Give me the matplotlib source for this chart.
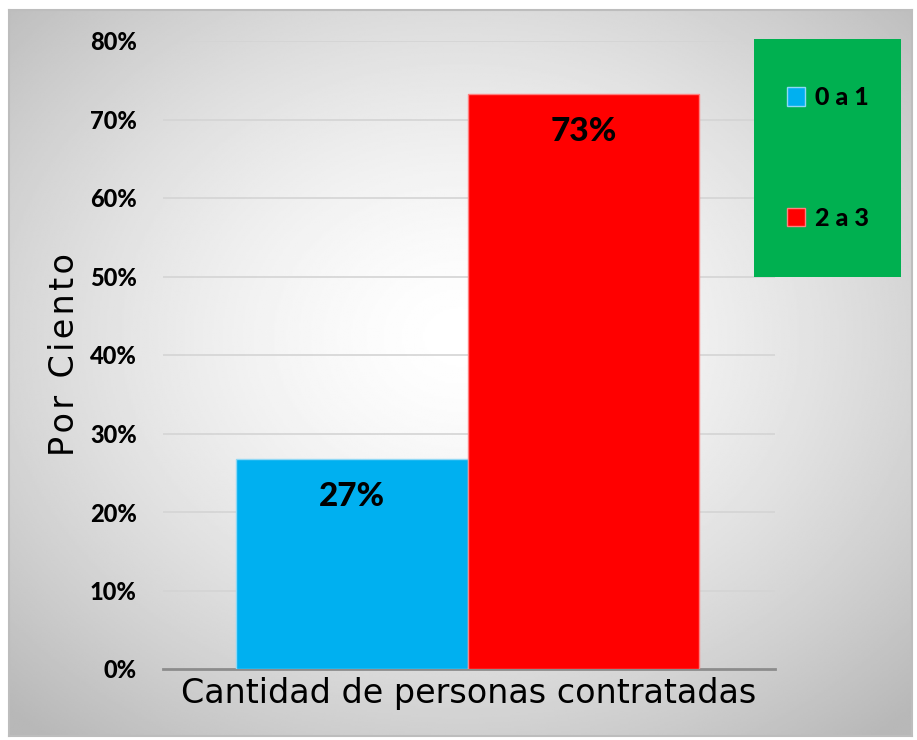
import numpy as np
import matplotlib.pyplot as plt
from matplotlib.patches import Rectangle

# Data
categories = ['0 a 1', '2 a 3']
values = [0.267, 0.733]
bar_labels = ['27%', '73%']
colors = ['#00b0f0', '#ff0000']
edge_colors = ['#8fd8f5', '#ff8080']
yticks = np.arange(0, 0.81, 0.1)

W, H = 917, 740
fig = plt.figure(figsize=(W / 100, H / 100), dpi=100)
fig.patch.set_facecolor('white')

# Background frame with radial gradient
bg = fig.add_axes([9 / W, 1 - 736 / H, 903 / W, 726 / H], zorder=-5)
yy, xx = np.mgrid[0:1:400j, 0:1:500j]
r = np.sqrt(((xx - 0.5) / 0.72) ** 2 + ((yy - 0.55) / 0.72) ** 2)
shade = 1 - 0.28 * np.clip(r, 0, 1) ** 1.5
bg.imshow(shade, cmap='gray', vmin=0, vmax=1, aspect='auto',
          extent=[0, 1, 0, 1], origin='lower')
bg.set_xticks([])
bg.set_yticks([])
for s in bg.spines.values():
    s.set_color('#bdbdbd')
    s.set_linewidth(1.5)

bold = {'family': 'Lato', 'weight': 'black'}

# Main chart
ax = fig.add_axes([163 / W, 1 - 669 / H, 612 / W, 628 / H])
ax.set_facecolor('none')
x = np.arange(len(values))
bars = ax.bar(x, values, width=1.0, color=colors, edgecolor=edge_colors,
              linewidth=1, label=categories, zorder=3)
ax.set_xlim(-0.5 - 73 / 232, 1.5 + 76 / 232)
ax.set_ylim(0, 0.8)
ax.set_yticks(yticks)
ax.set_yticklabels([f'{int(round(t * 100))}%' for t in yticks],
                   fontsize=17, **bold)
ax.tick_params(axis='y', length=0, pad=19)
ax.set_xticks([])
ax.grid(axis='y', color='#d4d4d4', linewidth=1.2, zorder=0)
for s in ['top', 'right', 'left']:
    ax.spines[s].set_visible(False)
ax.spines['bottom'].set_color('#8c8c8c')
ax.spines['bottom'].set_linewidth(2)
ax.spines['bottom'].set_zorder(2)

for b, lab in zip(bars, bar_labels):
    ax.annotate(lab, (b.get_x() + b.get_width() / 2, b.get_height()),
                xytext=(0, -27), textcoords='offset points',
                ha='center', va='center', fontsize=24, zorder=4, **bold)

ax.set_ylabel('\u200a'.join('Por Ciento'), fontfamily='DejaVu Sans',
              fontsize=24, labelpad=6)
ax.set_xlabel('Cantidad de personas contratadas', fontfamily='DejaVu Sans',
              fontsize=24, labelpad=6)

# Legend box
fig.patches.append(Rectangle((754 / W, 1 - 277 / H), 147 / W, 238 / H,
                             transform=fig.transFigure, facecolor='#00b050',
                             edgecolor='none', zorder=1))
leg = fig.legend(handles=list(bars), labels=categories, loc='center',
                 bbox_to_anchor=(828 / W, 1 - 158 / H), frameon=False,
                 prop={'family': 'Lato', 'weight': 'black', 'size': 18},
                 handlelength=0.75, handleheight=0.75, handletextpad=0.4,
                 labelspacing=3.9)
leg.set_zorder(5)

fig.savefig('out.png', dpi=100)
